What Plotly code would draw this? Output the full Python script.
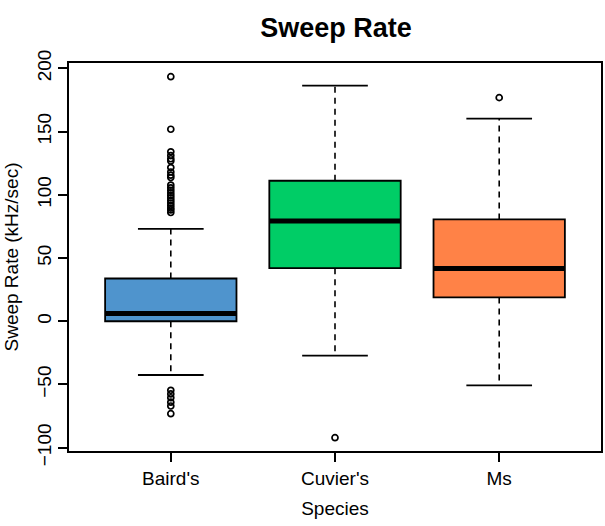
import plotly.graph_objects as go

species = ["Baird's", "Cuvier's", "Ms"]
positions = [1, 2, 3]
colors = ["#4F94CD", "#00CD66", "#FF8247"]

q1 = [0.0, 42.0, 18.8]
median = [6.1, 79.2, 41.7]
q3 = [33.8, 111.1, 80.5]
whisker_low = [-42.5, -27.2, -50.7]
whisker_high = [73.1, 186.3, 160.2]

outliers = [
    [193.4, 151.8, 134.0, 131.0, 128.5, 126.7, 121.5, 118.0, 115.5, 113.6,
     107.7, 105.5, 103.5, 101.5, 99.5, 97.5, 95.5, 93.5, 91.5, 89.5, 88.0, 86.0,
     -54.6, -57.5, -60.5, -64.0, -67.0, -73.1],
    [-92.1],
    [176.8],
]

y_ticks = [-100, -50, 0, 50, 100, 150, 200]

box_w = 0.8
cap_w = 0.4

fig = go.Figure()

for i, name in enumerate(species):
    x = positions[i]
    fig.add_trace(go.Box(
        x=[x], q1=[q1[i]], median=[median[i]], q3=[q3[i]],
        lowerfence=[q1[i]], upperfence=[q3[i]],
        width=box_w, whiskerwidth=0,
        fillcolor=colors[i], line=dict(color="black", width=1.8),
        boxpoints=False, hoverinfo="skip", showlegend=False,
    ))
    # median
    fig.add_trace(go.Scatter(
        x=[x - box_w / 2, x + box_w / 2], y=[median[i], median[i]],
        mode="lines", line=dict(color="black", width=5),
        hoverinfo="skip", showlegend=False,
    ))
    # dashed whiskers
    for a, b in [(q3[i], whisker_high[i]), (q1[i], whisker_low[i])]:
        fig.add_trace(go.Scatter(
            x=[x, x], y=[a, b], mode="lines",
            line=dict(color="black", width=1.6, dash="6px,5px"),
            hoverinfo="skip", showlegend=False,
        ))
    # staples
    for v in [whisker_high[i], whisker_low[i]]:
        fig.add_trace(go.Scatter(
            x=[x - cap_w / 2, x + cap_w / 2], y=[v, v], mode="lines",
            line=dict(color="black", width=1.8),
            hoverinfo="skip", showlegend=False,
        ))
    # outliers
    fig.add_trace(go.Scatter(
        x=[x] * len(outliers[i]), y=outliers[i], mode="markers",
        marker=dict(symbol="circle-open", size=6, color="black",
                    line=dict(width=1.7, color="black")),
        hoverinfo="skip", showlegend=False,
    ))

font_family = "Liberation Sans, Arial, sans-serif"

fig.update_layout(
    width=605, height=526,
    margin=dict(l=69, r=2, t=63, b=75),
    paper_bgcolor="white", plot_bgcolor="white",
    font=dict(family=font_family, size=19, color="black"),
    title=dict(text="<b>Sweep Rate</b>", x=(69 + 603) / 2 / 605, xanchor="center",
               y=1 - 28 / 526, yanchor="middle",
               font=dict(size=27, family=font_family, color="black")),
    showlegend=False,
)

fig.update_xaxes(
    range=[0.38, 3.62], tickvals=positions, ticktext=species,
    showline=True, mirror=True, linecolor="black", linewidth=1.8,
    ticks="outside", ticklen=9, tickwidth=1.8, tickcolor="black",
    showgrid=False, zeroline=False,
    title=dict(text="Species", standoff=14, font=dict(size=19)),
    tickfont=dict(size=19),
)

fig.update_yaxes(
    range=[-102.6, 204.2], tickvals=y_ticks,
    tickangle=-90,
    showline=True, mirror=True, linecolor="black", linewidth=1.8,
    ticks="outside", ticklen=9, tickwidth=1.8, tickcolor="black",
    showgrid=False, zeroline=False,
    title=dict(text="Sweep Rate (kHz/sec)", standoff=10, font=dict(size=19)),
    tickfont=dict(size=19),
)

fig.write_html("out.html")
